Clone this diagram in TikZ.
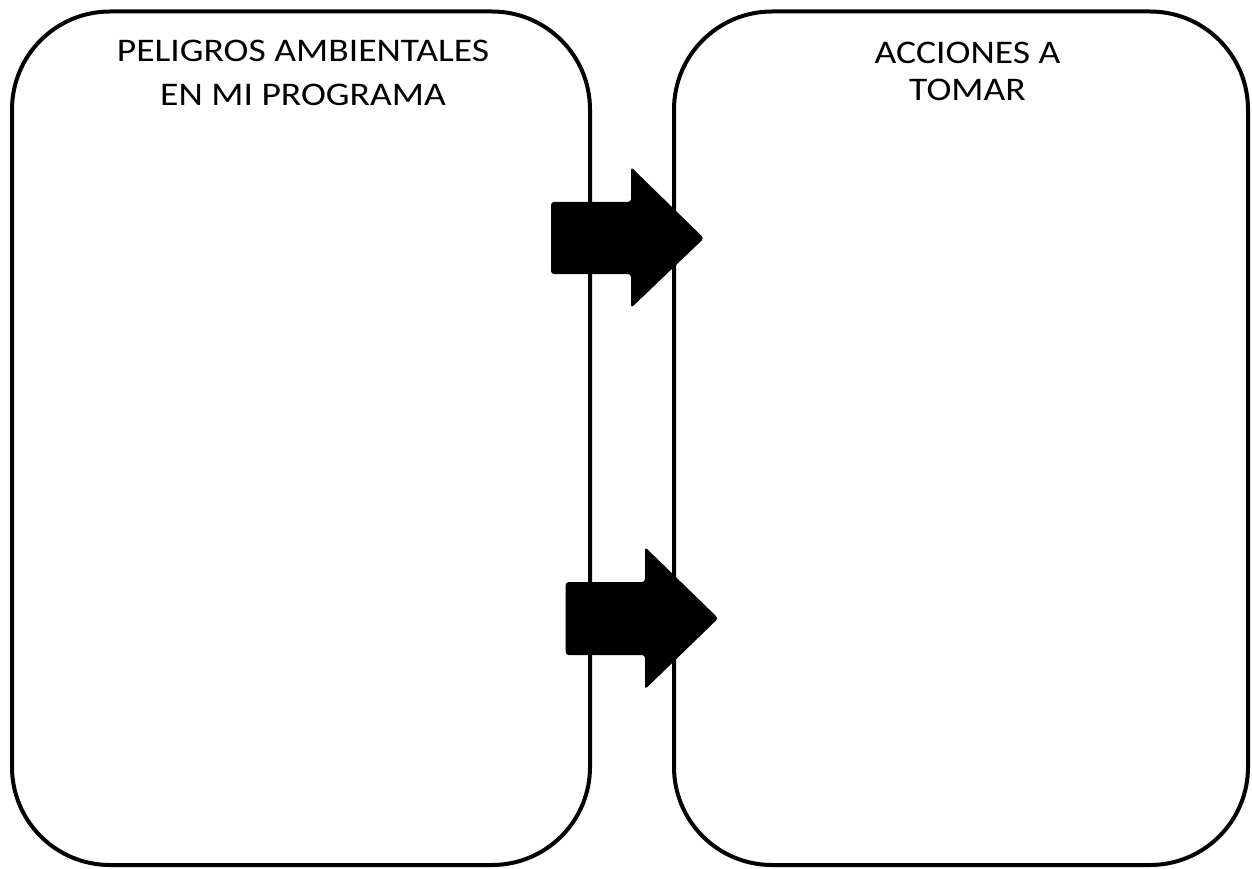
\documentclass[tikz,border=0pt]{standalone}
\usepackage{fontspec}
\setmainfont{Carlito}
\begin{document}
\begin{tikzpicture}[x=1pt,y=-1pt,
  panel/.style={draw=black,line width=4pt,rounded corners=98pt,fill=white},
  title/.style={align=center,inner sep=0pt,anchor=north,text=black,xscale=1.14,transform shape},
  blockarrow/.style={fill=black,rounded corners=3pt}]
\useasboundingbox (0,0) rectangle (1252,869);
\draw[panel] (12,11.5) rectangle (590,865);
\draw[panel] (674,11.5) rectangle (1248,865);
\node[title,font=\fontsize{33}{44.3}\selectfont] (lefttitle) at (303,40) {PELIGROS AMBIENTALES\\EN MI PROGRAMA};
\node[title,font=\fontsize{33}{36.7}\selectfont] (righttitle) at (967.5,42) {ACCIONES A\\TOMAR};
\fill[blockarrow] (551,202) -- (631,202) -- (631,167) -- (704,238.3) -- (631,308) -- (631,274) -- (551,274) -- cycle;
\fill[blockarrow] (565.7,582) -- (645,582) -- (645,547) -- (718.3,618.3) -- (645,689.3) -- (645,655) -- (565.7,655) -- cycle;
\end{tikzpicture}
\end{document}
